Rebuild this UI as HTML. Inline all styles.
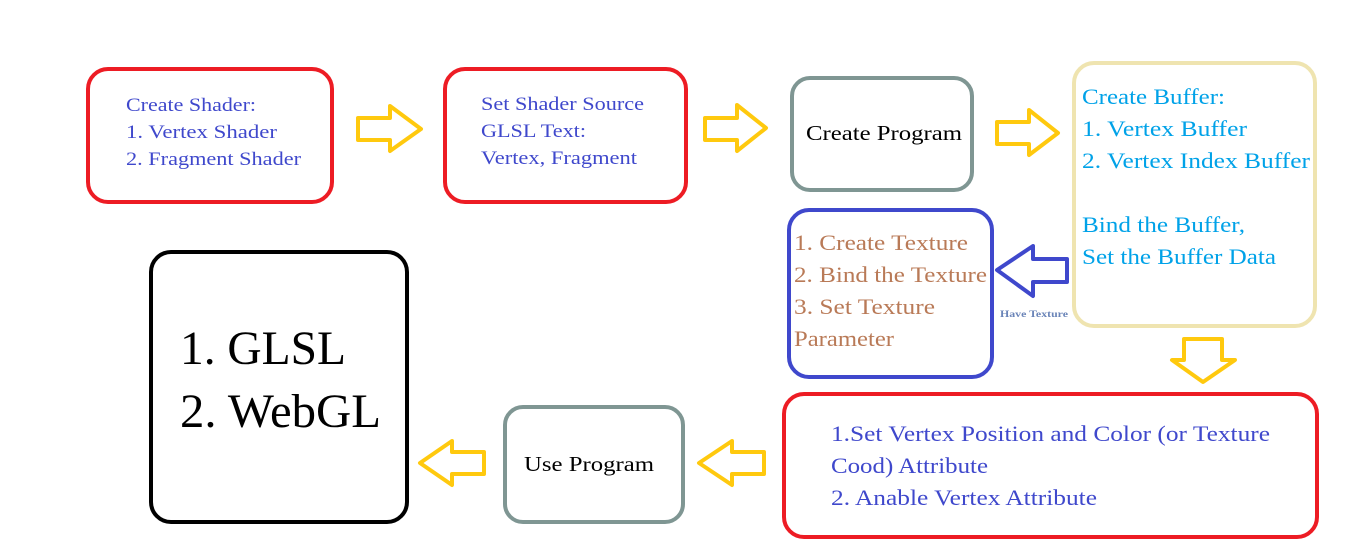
<!DOCTYPE html>
<html><head><meta charset="utf-8"><style>body{margin:0;background:#fff}svg{display:block}</style></head><body>
<svg width="1360" height="552" xmlns="http://www.w3.org/2000/svg" font-family="Liberation Serif, serif">
<g fill="none" stroke-width="4">
<rect x="88" y="69" width="244" height="133" rx="20" stroke="#ed1c24"/>
<rect x="445" y="69" width="241" height="133" rx="20" stroke="#ed1c24"/>
<rect x="792" y="78" width="180" height="112" rx="18" stroke="#7f9693"/>
<rect x="1074" y="63" width="241" height="263" rx="20" stroke="#efe4b0"/>
<rect x="789" y="210" width="203" height="167" rx="20" stroke="#3f48cc"/>
<rect x="151" y="252" width="256" height="270" rx="20" stroke="#000"/>
<rect x="505" y="407" width="178" height="115" rx="18" stroke="#7f9693"/>
<rect x="784" y="394" width="533" height="143" rx="20" stroke="#ed1c24"/>
</g>
<g fill="none" stroke="#ffc90e" stroke-width="4" stroke-linejoin="round">
<polygon points="358,118 390,118 390,106 421,129 390,151 390,140 358,140"/>
<polygon points="705,118 737,118 737,105 766,128 737,151 737,140 705,140"/>
<polygon points="997,122 1029,122 1029,110 1058,133 1029,155 1029,144 997,144"/>
<polygon points="1184,339 1222,339 1222,360 1235,360 1203,382 1172,360 1184,360"/>
<polygon points="484,452 452,452 452,441 420,463 452,485 452,474 484,474"/>
<polygon points="764,452 732,452 732,441 699,463 732,485 732,474 764,474"/>
</g>
<polygon points="1067,259 1033,259 1033,246 997,270 1033,296 1033,282 1067,282" fill="none" stroke="#3f48cc" stroke-width="4" stroke-linejoin="round"/>
<g font-size="19" fill="#3f48cc">
<text x="126" y="111" textLength="130" lengthAdjust="spacingAndGlyphs">Create Shader:</text>
<text x="126" y="138" textLength="151" lengthAdjust="spacingAndGlyphs">1. Vertex Shader</text>
<text x="126" y="165" textLength="175" lengthAdjust="spacingAndGlyphs">2. Fragment Shader</text>
<text x="481" y="110" textLength="163" lengthAdjust="spacingAndGlyphs">Set Shader Source</text>
<text x="481" y="137" textLength="105" lengthAdjust="spacingAndGlyphs">GLSL Text:</text>
<text x="481" y="164" textLength="156" lengthAdjust="spacingAndGlyphs">Vertex, Fragment</text>
</g>
<text x="806" y="140" font-size="21" fill="#000" textLength="156" lengthAdjust="spacingAndGlyphs">Create Program</text>
<g font-size="22" fill="#00a2e8">
<text x="1082" y="104" textLength="143" lengthAdjust="spacingAndGlyphs">Create Buffer:</text>
<text x="1082" y="136" textLength="165" lengthAdjust="spacingAndGlyphs">1. Vertex Buffer</text>
<text x="1082" y="168" textLength="228" lengthAdjust="spacingAndGlyphs">2. Vertex Index Buffer</text>
<text x="1082" y="232" textLength="163" lengthAdjust="spacingAndGlyphs">Bind the Buffer,</text>
<text x="1082" y="264" textLength="194" lengthAdjust="spacingAndGlyphs">Set the Buffer Data</text>
</g>
<g font-size="22" fill="#b97a57">
<text x="794" y="250" textLength="174" lengthAdjust="spacingAndGlyphs">1. Create Texture</text>
<text x="794" y="282" textLength="193" lengthAdjust="spacingAndGlyphs">2. Bind the Texture</text>
<text x="794" y="314" textLength="141" lengthAdjust="spacingAndGlyphs">3. Set Texture</text>
<text x="794" y="346" textLength="100" lengthAdjust="spacingAndGlyphs">Parameter</text>
</g>
<text x="1000" y="317" font-size="9" font-weight="bold" fill="#6a84b8" textLength="68" lengthAdjust="spacingAndGlyphs">Have Texture</text>
<g font-size="48" fill="#000">
<text x="180" y="364" textLength="166" lengthAdjust="spacingAndGlyphs">1. GLSL</text>
<text x="180" y="427" textLength="201" lengthAdjust="spacingAndGlyphs">2. WebGL</text>
</g>
<text x="524" y="471" font-size="21" fill="#000" textLength="130" lengthAdjust="spacingAndGlyphs">Use Program</text>
<g font-size="22" fill="#3f48cc">
<text x="831" y="441" textLength="439" lengthAdjust="spacingAndGlyphs">1.Set Vertex Position and Color (or Texture</text>
<text x="831" y="473" textLength="157" lengthAdjust="spacingAndGlyphs">Cood) Attribute</text>
<text x="831" y="505" textLength="266" lengthAdjust="spacingAndGlyphs">2. Anable Vertex Attribute</text>
</g>
</svg>
</body></html>
